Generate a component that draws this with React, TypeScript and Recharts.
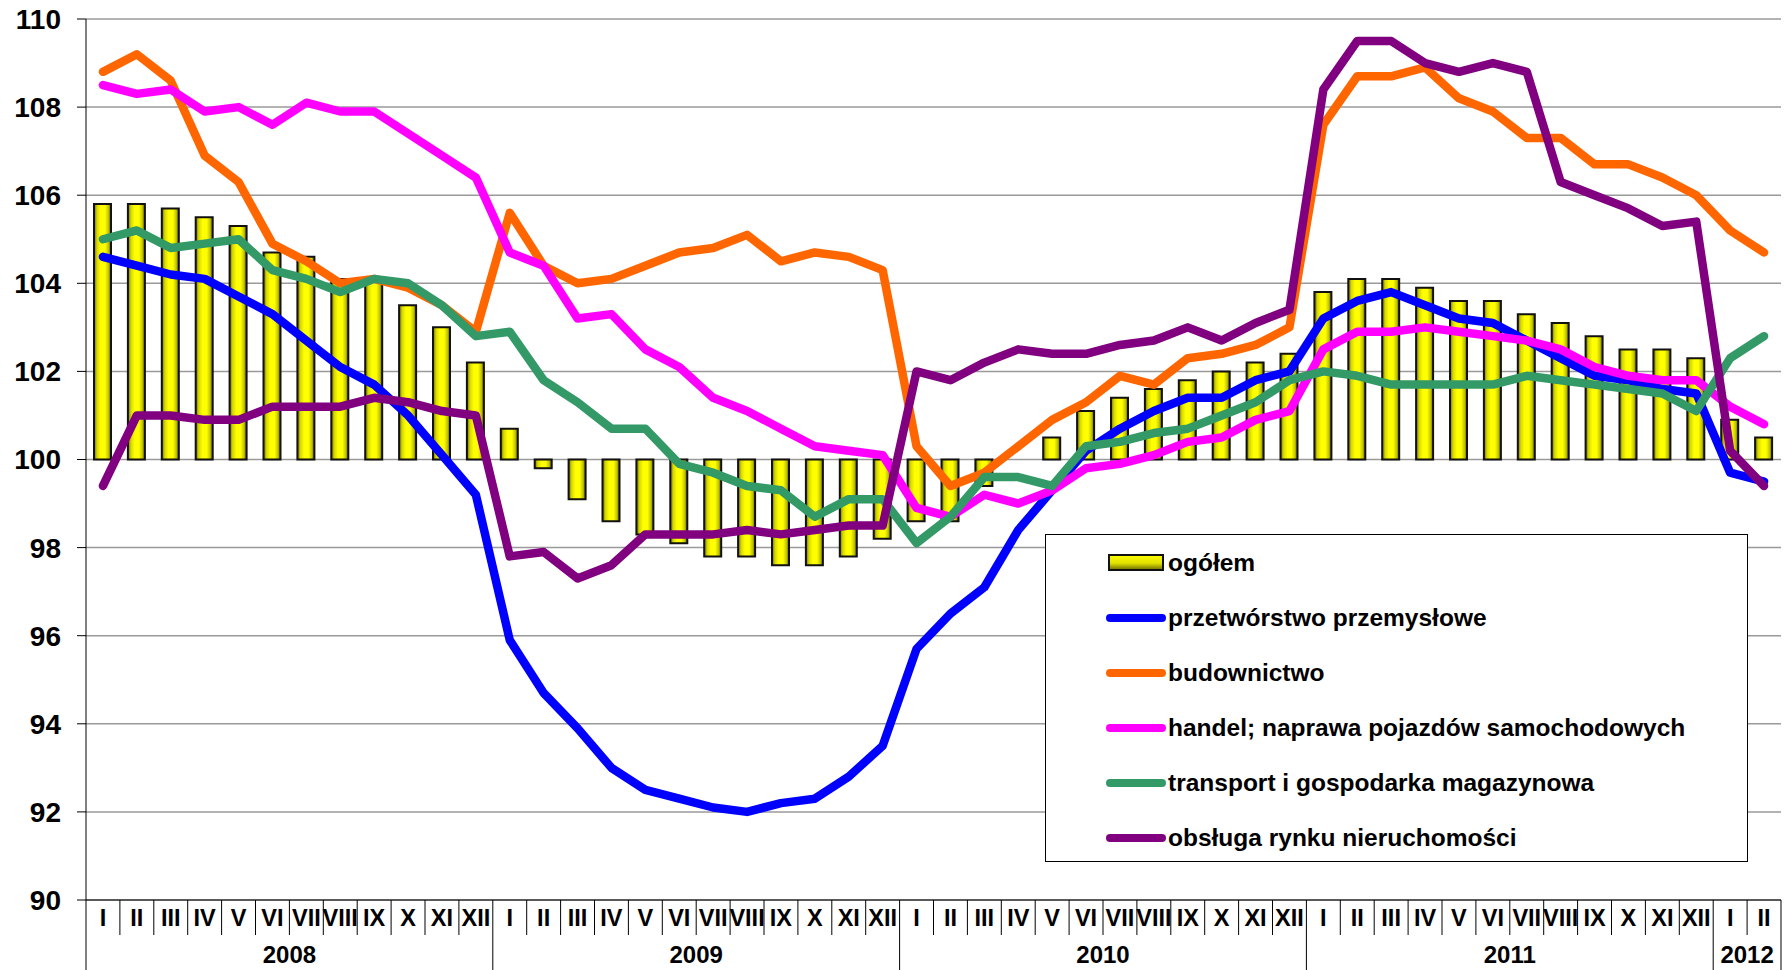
import { ComposedChart, Bar, Line, XAxis, YAxis, CartesianGrid, Legend } from "recharts";

const ROMAN = ["I", "II", "III", "IV", "V", "VI", "VII", "VIII", "IX", "X", "XI", "XII"];
const MONTHS = [...ROMAN, ...ROMAN, ...ROMAN, ...ROMAN, "I", "II"];

const YEARS = [
  { label: "2008", start: 0, count: 12 },
  { label: "2009", start: 12, count: 12 },
  { label: "2010", start: 24, count: 12 },
  { label: "2011", start: 36, count: 12 },
  { label: "2012", start: 48, count: 2 },
];

const Y_TICKS = [90, 92, 94, 96, 98, 100, 102, 104, 106, 108, 110];

const ogolem = [
  105.8, 105.8, 105.7, 105.5, 105.3, 104.7, 104.6, 104.1, 104.1, 103.5, 103.0, 102.2,
  100.7, 99.8, 99.1, 98.6, 98.3, 98.1, 97.8, 97.8, 97.6, 97.6, 97.8, 98.2,
  98.6, 98.6, 99.4, 100.0, 100.5, 101.1, 101.4, 101.6, 101.8, 102.0, 102.2, 102.4,
  103.8, 104.1, 104.1, 103.9, 103.6, 103.6, 103.3, 103.1, 102.8, 102.5, 102.5, 102.3,
  100.9, 100.5,
];

const przetworstwo = [
  104.6, 104.4, 104.2, 104.1, 103.7, 103.3, 102.7, 102.1, 101.7, 101.0, 100.1, 99.2,
  95.9, 94.7, 93.9, 93.0, 92.5, 92.3, 92.1, 92.0, 92.2, 92.3, 92.8, 93.5,
  95.7, 96.5, 97.1, 98.4, 99.3, 100.2, 100.7, 101.1, 101.4, 101.4, 101.8, 102.0,
  103.2, 103.6, 103.8, 103.5, 103.2, 103.1, 102.7, 102.3, 101.9, 101.8, 101.6, 101.5,
  99.7, 99.5,
];

const budownictwo = [
  108.8, 109.2, 108.6, 106.9, 106.3, 104.9, 104.5, 104.0, 104.1, 103.9, 103.5, 102.9,
  105.6, 104.4, 104.0, 104.1, 104.4, 104.7, 104.8, 105.1, 104.5, 104.7, 104.6, 104.3,
  100.3, 99.4, 99.7, 100.3, 100.9, 101.3, 101.9, 101.7, 102.3, 102.4, 102.6, 103.0,
  107.6, 108.7, 108.7, 108.9, 108.2, 107.9, 107.3, 107.3, 106.7, 106.7, 106.4, 106.0,
  105.2, 104.7,
];

const handel = [
  108.5, 108.3, 108.4, 107.9, 108.0, 107.6, 108.1, 107.9, 107.9, 107.4, 106.9, 106.4,
  104.7, 104.4, 103.2, 103.3, 102.5, 102.1, 101.4, 101.1, 100.7, 100.3, 100.2, 100.1,
  98.9, 98.7, 99.2, 99.0, 99.3, 99.8, 99.9, 100.1, 100.4, 100.5, 100.9, 101.1,
  102.5, 102.9, 102.9, 103.0, 102.9, 102.8, 102.7, 102.5, 102.1, 101.9, 101.8, 101.8,
  101.2, 100.8,
];

const transport = [
  105.0, 105.2, 104.8, 104.9, 105.0, 104.3, 104.1, 103.8, 104.1, 104.0, 103.5, 102.8,
  102.9, 101.8, 101.3, 100.7, 100.7, 99.9, 99.7, 99.4, 99.3, 98.7, 99.1, 99.1,
  98.1, 98.7, 99.6, 99.6, 99.4, 100.3, 100.4, 100.6, 100.7, 101.0, 101.3, 101.8,
  102.0, 101.9, 101.7, 101.7, 101.7, 101.7, 101.9, 101.8, 101.7, 101.6, 101.5, 101.1,
  102.3, 102.8,
];

const nieruchomosci = [
  99.4, 101.0, 101.0, 100.9, 100.9, 101.2, 101.2, 101.2, 101.4, 101.3, 101.1, 101.0,
  97.8, 97.9, 97.3, 97.6, 98.3, 98.3, 98.3, 98.4, 98.3, 98.4, 98.5, 98.5,
  102.0, 101.8, 102.2, 102.5, 102.4, 102.4, 102.6, 102.7, 103.0, 102.7, 103.1, 103.4,
  108.4, 109.5, 109.5, 109.0, 108.8, 109.0, 108.8, 106.3, 106.0, 105.7, 105.3, 105.4,
  100.2, 99.4,
];

const LINES = [
  { key: "przetworstwo", name: "przetwórstwo przemysłowe", color: "#0000FF" },
  { key: "budownictwo", name: "budownictwo", color: "#FF6600" },
  { key: "handel", name: "handel; naprawa pojazdów samochodowych", color: "#FF00FF" },
  { key: "transport", name: "transport i gospodarka magazynowa", color: "#339966" },
  { key: "nieruchomosci", name: "obsługa rynku nieruchomości", color: "#800080" },
];

const data = MONTHS.map((m, i) => ({
  month: m,
  ogolem: ogolem[i],
  przetworstwo: przetworstwo[i],
  budownictwo: budownictwo[i],
  handel: handel[i],
  transport: transport[i],
  nieruchomosci: nieruchomosci[i],
}));

const W = 1791;
const H = 970;
const Y_AXIS_W = 86;
const RIGHT = 10;
const X_AXIS_H = 70;
const FONT = "'Liberation Sans', Arial, sans-serif";
const BAND = (W - Y_AXIS_W - RIGHT) / MONTHS.length;

function MonthTick(props: any) {
  const { x, y, index, payload } = props;
  const left = x - BAND / 2;
  const year = YEARS.find((yr) => yr.start === index);
  const last = index === MONTHS.length - 1;
  return (
    <g>
      <line x1={left} x2={left} y1={y} y2={year ? y + X_AXIS_H : y + 35} stroke="#000" strokeWidth={1} />
      {last && <line x1={x + BAND / 2} x2={x + BAND / 2} y1={y} y2={y + X_AXIS_H} stroke="#000" strokeWidth={1} />}
      <text x={x} y={y + 26} textAnchor="middle" fontFamily={FONT} fontWeight="bold" fontSize={23.5} fill="#000">
        {payload.value}
      </text>
      {year && (
        <text
          x={left + (year.count * BAND) / 2}
          y={y + 63}
          textAnchor="middle"
          fontFamily={FONT}
          fontWeight="bold"
          fontSize={24}
          fill="#000"
        >
          {year.label}
        </text>
      )}
    </g>
  );
}

// legend box drawn by hand, it sits inside the plot like in the Excel original
function LegendBox() {
  return (
    <div
      style={{
        width: 703,
        height: 328,
        border: "1.5px solid #000",
        background: "#fff",
        boxSizing: "border-box",
        position: "relative",
        fontFamily: FONT,
      }}
    >
      <svg width={700} height={325} style={{ position: "absolute", left: 0, top: 0 }}>
        <defs>
          <linearGradient id="legBar" x1="0" y1="0" x2="0" y2="1">
            <stop offset="0%" stopColor="#ffff00" />
            <stop offset="55%" stopColor="#e0e000" />
            <stop offset="100%" stopColor="#6b6b00" />
          </linearGradient>
        </defs>
        <rect x={63} y={20} width={54} height={15} fill="url(#legBar)" stroke="#111" strokeWidth={2} />
        <text x={122} y={36} fontFamily={FONT} fontWeight="bold" fontSize={24.5} fill="#000">
          ogółem
        </text>
        {LINES.map((l, i) => {
          const cy = 83 + i * 55;
          return (
            <g key={l.key}>
              <line x1={64} x2={116} y1={cy} y2={cy} stroke={l.color} strokeWidth={8} strokeLinecap="round" />
              <text x={122} y={cy + 8} fontFamily={FONT} fontWeight="bold" fontSize={24.5} fill="#000">
                {l.name}
              </text>
            </g>
          );
        })}
      </svg>
    </div>
  );
}

export default function App() {
  return (
    <div style={{ position: "absolute", left: 0, top: 0, width: W, height: H, background: "#fff" }}>
      <ComposedChart width={W} height={H} data={data} margin={{ top: 19, right: RIGHT, left: 0, bottom: 0 }}>
        <defs>
          <linearGradient id="barFill" x1="0" y1="0" x2="1" y2="0">
            <stop offset="0%" stopColor="#6b6b00" />
            <stop offset="18%" stopColor="#d8d800" />
            <stop offset="40%" stopColor="#ffff00" />
            <stop offset="65%" stopColor="#ffff00" />
            <stop offset="85%" stopColor="#c4c400" />
            <stop offset="100%" stopColor="#5c5c00" />
          </linearGradient>
        </defs>
        <CartesianGrid vertical={false} stroke="#9a9a9a" strokeWidth={1.5} />
        <XAxis
          dataKey="month"
          height={X_AXIS_H}
          interval={0}
          tickLine={false}
          tickSize={0}
          tickMargin={0}
          axisLine={{ stroke: "#000", strokeWidth: 1 }}
          tick={<MonthTick />}
        />
        <YAxis
          domain={[90, 110]}
          ticks={Y_TICKS}
          width={Y_AXIS_W}
          tickSize={9}
          tickMargin={16}
          axisLine={{ stroke: "#000", strokeWidth: 1 }}
          tickLine={{ stroke: "#000", strokeWidth: 1 }}
          tick={{ fontFamily: FONT, fontWeight: "bold", fontSize: 28, fill: "#000" }}
          interval={0}
        />
        <Legend
          layout="vertical"
          align="center"
          verticalAlign="middle"
          content={() => <LegendBox />}
          wrapperStyle={{ left: 1045, top: 534, width: 703, height: 328 }}
        />
        <Bar
          dataKey={(d: any) => [100, d.ogolem]}
          name="ogółem"
          barSize={17}
          fill="url(#barFill)"
          stroke="#111"
          strokeWidth={2}
          isAnimationActive={false}
        />
        {LINES.map((l) => (
          <Line
            key={l.key}
            type="linear"
            dataKey={l.key}
            name={l.name}
            stroke={l.color}
            strokeWidth={8.5}
            strokeLinecap="round"
            strokeLinejoin="round"
            dot={false}
            activeDot={false}
            isAnimationActive={false}
          />
        ))}
      </ComposedChart>
    </div>
  );
}
